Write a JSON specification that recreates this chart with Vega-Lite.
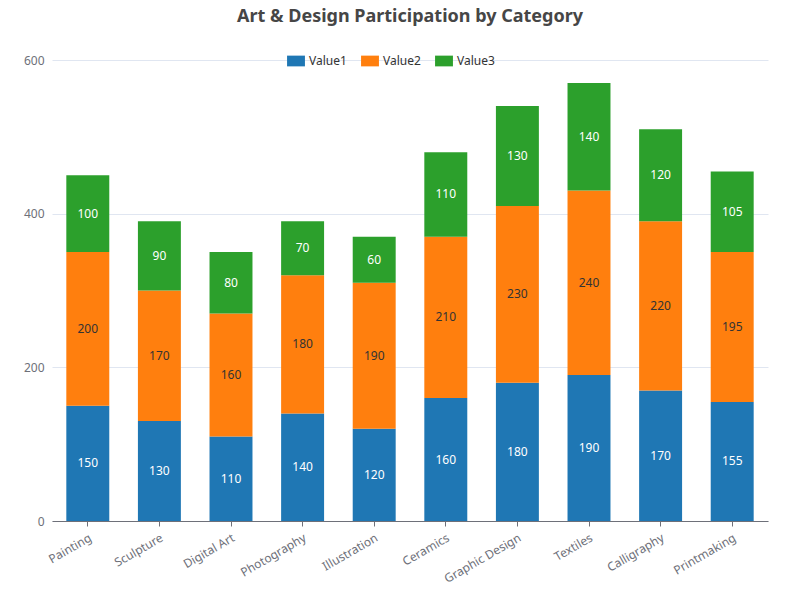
{
"$schema":"https://vega.github.io/schema/vega-lite/v6.json",
"autosize":{"type":"none"},
"width":716,"height":461,
"padding":{"left":52,"top":60,"right":32,"bottom":79},
"background":"white",
"title":{"text":"Art & Design Participation by Category","fontSize":18,"fontWeight":"bold","color":"#464646","font":"Noto Sans","offset":26,"anchor":"middle"},
"config":{"font":"Noto Sans","view":{"stroke":null}},
"data":{"values":[
{"c":"Painting","s":"Value1","v":150},{"c":"Painting","s":"Value2","v":200},{"c":"Painting","s":"Value3","v":100},
{"c":"Sculpture","s":"Value1","v":130},{"c":"Sculpture","s":"Value2","v":170},{"c":"Sculpture","s":"Value3","v":90},
{"c":"Digital Art","s":"Value1","v":110},{"c":"Digital Art","s":"Value2","v":160},{"c":"Digital Art","s":"Value3","v":80},
{"c":"Photography","s":"Value1","v":140},{"c":"Photography","s":"Value2","v":180},{"c":"Photography","s":"Value3","v":70},
{"c":"Illustration","s":"Value1","v":120},{"c":"Illustration","s":"Value2","v":190},{"c":"Illustration","s":"Value3","v":60},
{"c":"Ceramics","s":"Value1","v":160},{"c":"Ceramics","s":"Value2","v":210},{"c":"Ceramics","s":"Value3","v":110},
{"c":"Graphic Design","s":"Value1","v":180},{"c":"Graphic Design","s":"Value2","v":230},{"c":"Graphic Design","s":"Value3","v":130},
{"c":"Textiles","s":"Value1","v":190},{"c":"Textiles","s":"Value2","v":240},{"c":"Textiles","s":"Value3","v":140},
{"c":"Calligraphy","s":"Value1","v":170},{"c":"Calligraphy","s":"Value2","v":220},{"c":"Calligraphy","s":"Value3","v":120},
{"c":"Printmaking","s":"Value1","v":155},{"c":"Printmaking","s":"Value2","v":195},{"c":"Printmaking","s":"Value3","v":105}
]},
"transform":[
{"stack":"v","groupby":["c"],"sort":[{"field":"s","order":"ascending"}],"as":["v0","v1"]},
{"calculate":"(datum.v0+datum.v1)/2","as":"mid"}
],
"encoding":{
"x":{"field":"c","type":"nominal","sort":null,"scale":{"paddingInner":0.4,"paddingOuter":0.2},
"axis":{"title":null,"labelAngle":-30,"labelColor":"#6e7079","labelFontSize":12,"domainColor":"#6e7079","tickColor":"#6e7079","labelPadding":6}}
},
"layer":[
{"mark":{"type":"bar"},
"encoding":{
"y":{"field":"v0","type":"quantitative","scale":{"domain":[0,600]},
"axis":{"title":null,"tickCount":6,"values":[0,100,200,300,400,500,600],"domain":false,"ticks":false,"gridColor":"#e0e6f1","labelColor":"#6e7079","labelFontSize":12,"labelPadding":8}},
"y2":{"field":"v1"},
"color":{"field":"s","type":"nominal","scale":{"domain":["Value1","Value2","Value3"],"range":["#1f77b4","#ff7f0e","#2ca02c"]},
"legend":{"title":null,"orient":"none","direction":"horizontal","legendX":235,"legendY":-8,"symbolType":"M-1,-0.6L1,-0.6L1,0.6L-1,0.6Z","symbolSize":320,"symbolOpacity":1,"labelFontSize":12,"labelColor":"#333","columnPadding":14,"symbolStrokeWidth":0}}
}},
{"mark":{"type":"text","fontSize":12},
"encoding":{
"y":{"field":"mid","type":"quantitative"},
"text":{"field":"v","type":"quantitative"},
"color":{"condition":{"test":"datum.s=='Value2'","value":"#333333"},"value":"white"}
}}
]
}
